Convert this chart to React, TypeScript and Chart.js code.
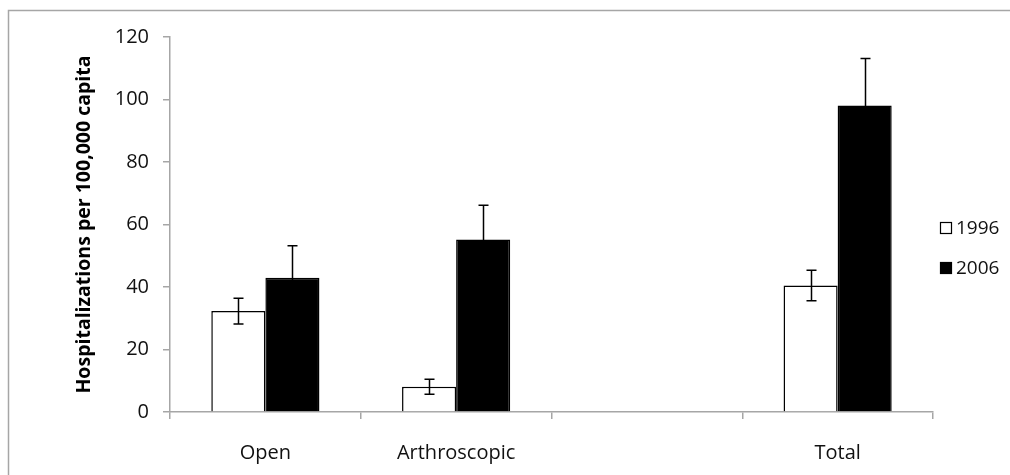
import React, { useEffect, useRef } from "react";
import { Chart, registerables } from "chart.js";

Chart.register(...registerables);

const categories = ["Open", "Arthroscopic", "", "Total"];
const seriesNames = ["1996", "2006"];
const values1996 = [32.3, 8.1, null, 40.5];
const values2006 = [43.0, 55.2, null, 98.1];
const err1996 = [4.1, 2.4, null, 4.9];
const err2006 = [10.2, 11.0, null, 15.0];
const yTicks = [0, 20, 40, 60, 80, 100, 120];
const yTitle = "Hospitalizations per 100,000 capita";

const FONT = "'Open Sans', 'Liberation Sans', sans-serif";

const errorBarPlugin = {
  id: "errorBars",
  afterDatasetsDraw(chart: any) {
    const ctx = chart.ctx;
    const yScale = chart.scales.y;
    const errs = [err1996, err2006];
    ctx.save();
    ctx.lineWidth = 1.5;
    ctx.strokeStyle = "#000";
    chart.data.datasets.forEach((ds: any, di: number) => {
      const meta = chart.getDatasetMeta(di);
      meta.data.forEach((bar: any, i: number) => {
        const v = ds.data[i];
        const e = errs[di][i];
        if (v == null || e == null) return;
        const x = Math.round(bar.x) + 0.5;
        const yTop = yScale.getPixelForValue(v + e);
        const yBot = yScale.getPixelForValue(v - e);
        const cap = 5;
        ctx.beginPath();
        ctx.moveTo(x, yTop);
        ctx.lineTo(x, yBot);
        ctx.moveTo(x - cap, yTop);
        ctx.lineTo(x + cap, yTop);
        ctx.moveTo(x - cap, yBot);
        ctx.lineTo(x + cap, yBot);
        ctx.stroke();
      });
    });
    ctx.restore();
  },
};

const decorPlugin = {
  id: "decor",
  beforeDraw(chart: any) {
    const ctx = chart.ctx;
    ctx.save();
    ctx.fillStyle = "#fff";
    ctx.fillRect(0, 0, chart.width, chart.height);
    ctx.strokeStyle = "#a6a6a6";
    ctx.lineWidth = 1.5;
    ctx.strokeRect(8.5, 10.5, chart.width + 20, chart.height + 20);
    ctx.restore();
  },
  afterDraw(chart: any) {
    const ctx = chart.ctx;
    const area = chart.chartArea;
    ctx.save();
    ctx.translate(84, (area.top + area.bottom) / 2);
    ctx.rotate(-Math.PI / 2);
    ctx.font = `bold 19.5px ${FONT}`;
    ctx.fillStyle = "#000";
    ctx.textAlign = "center";
    ctx.textBaseline = "middle";
    ctx.fillText(yTitle, 0, 0);
    ctx.restore();

    ctx.save();
    ctx.font = `19px ${FONT}`;
    ctx.textBaseline = "middle";
    ctx.textAlign = "left";
    chart.data.datasets.forEach((ds: any, i: number) => {
      const cy = 228 + i * 40;
      const bx = 940;
      ctx.fillStyle = ds.backgroundColor;
      ctx.fillRect(bx, cy - 6, 12, 12);
      ctx.strokeStyle = "#000";
      ctx.lineWidth = 1.2;
      ctx.strokeRect(bx + 0.5, cy - 5.5, 11, 11);
      ctx.fillStyle = "#111";
      ctx.fillText(ds.label, bx + 16, cy + 1);
    });
    ctx.restore();
  },
};

export default function App() {
  const ref = useRef<HTMLCanvasElement>(null);
  useEffect(() => {
    const chart = new Chart(ref.current!, {
      type: "bar",
      data: {
        labels: categories,
        datasets: [
          {
            label: seriesNames[0],
            data: values1996 as any,
            backgroundColor: "#ffffff",
            borderColor: "#000000",
            borderWidth: 1.5,
            borderSkipped: "bottom",
          },
          {
            label: seriesNames[1],
            data: values2006 as any,
            backgroundColor: "#000000",
            borderColor: "#000000",
            borderWidth: 1.5,
            borderSkipped: "bottom",
          },
        ],
      },
      options: {
        animation: false,
        responsive: false,
        layout: { padding: { left: 0, right: 77, top: 37, bottom: 0 } },
        plugins: { legend: { display: false }, tooltip: { enabled: false } },
        datasets: { bar: { categoryPercentage: 0.567, barPercentage: 1.0 } },
        scales: {
          x: {
            grid: {
              offset: true,
              drawOnChartArea: false,
              drawTicks: true,
              tickLength: 7,
              color: "#a6a6a6",
              lineWidth: 1.5,
            },
            border: { color: "#a6a6a6", width: 1.5 },
            ticks: {
              color: "#111",
              font: { family: FONT, size: 20 },
              padding: 22,
            },
            afterFit(scale: any) {
              scale.height = 63;
            },
          },
          y: {
            min: 0,
            max: 120,
            afterBuildTicks(scale: any) {
              scale.ticks = yTicks.map((v) => ({ value: v }));
            },
            grid: {
              drawOnChartArea: false,
              drawTicks: true,
              tickLength: 7,
              color: "#a6a6a6",
              lineWidth: 1.5,
            },
            border: { color: "#a6a6a6", width: 1.5 },
            ticks: {
              color: "#111",
              font: { family: FONT, size: 20 },
              padding: 14,
            },
            afterFit(scale: any) {
              scale.width = 170;
            },
          },
        },
      },
      plugins: [decorPlugin, errorBarPlugin],
    });
    return () => chart.destroy();
  }, []);
  return (
    <div style={{ position: "fixed", left: 0, top: 0, width: 1010, height: 475 }}>
      <canvas ref={ref} width={1010} height={475} style={{ display: "block" }} />
    </div>
  );
}
